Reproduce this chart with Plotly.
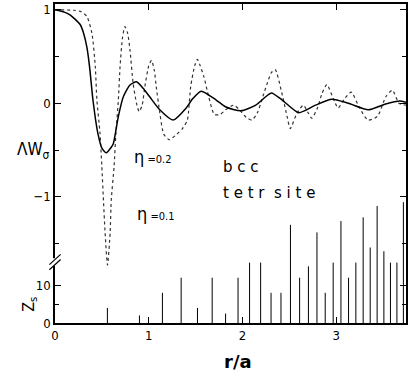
import plotly.graph_objects as go

# eta = 0.2 (solid)
r_solid = [0, 0.1, 0.164, 0.27, 0.305, 0.34, 0.369, 0.405, 0.457, 0.5, 0.546, 0.6, 0.623,
           0.676, 0.729, 0.8, 0.87, 0.94, 1.01, 1.118, 1.26, 1.4, 1.47, 1.56, 1.72, 1.824,
           1.983, 2.142, 2.248, 2.31, 2.424, 2.6, 2.78, 2.953, 3.13, 3.342, 3.519, 3.678, 3.745]
w_solid = [1.0, 0.975, 0.944, 0.84, 0.75, 0.6, 0.39, 0.035, -0.32, -0.48, -0.53, -0.47, -0.43,
           -0.14, 0.07, 0.196, 0.23, 0.16, 0.07, -0.07, -0.18, -0.05, 0.05, 0.13, 0.035, -0.04,
           -0.08, -0.02, 0.07, 0.11, 0.035, -0.10, -0.02, 0.043, 0.0, -0.07, -0.01, 0.025, 0.01]

# eta = 0.1 (dotted)
r_dot = [0, 0.2, 0.28, 0.34, 0.394, 0.43, 0.447, 0.48, 0.5, 0.517, 0.535, 0.56, 0.588, 0.6,
         0.63, 0.65, 0.676, 0.694, 0.72, 0.746, 0.775, 0.8, 0.834, 0.87, 0.898, 0.93, 0.959,
         1.0, 1.03, 1.06, 1.08, 1.118, 1.16, 1.22, 1.3, 1.36, 1.412, 1.448, 1.49, 1.519, 1.55,
         1.59, 1.64, 1.7, 1.76, 1.82, 1.88, 1.91, 1.96, 2.04, 2.1, 2.16, 2.22, 2.26, 2.31, 2.35,
         2.42, 2.476, 2.51, 2.58, 2.65, 2.7, 2.74, 2.8, 2.85, 2.9, 2.97, 3.02, 3.09, 3.16, 3.25,
         3.34, 3.44, 3.53, 3.6, 3.67, 3.745]
w_dot = [1.0, 0.995, 0.98, 0.93, 0.75, 0.39, 0.035, -0.32, -0.68, -1.04, -1.39, -1.73, -1.39, -1.04,
         -0.68, -0.32, 0.035, 0.39, 0.7, 0.82, 0.75, 0.57, 0.21, 0.0, -0.09, -0.02, 0.18,
         0.40, 0.46, 0.35, 0.18, -0.1, -0.33, -0.39, -0.33, -0.27, -0.18, 0.18, 0.4, 0.47, 0.4,
         0.28, 0.07, -0.12, -0.12, -0.07, -0.03, -0.02, -0.06, -0.15, -0.18, -0.1, 0.08, 0.2, 0.33, 0.36,
         0.11, -0.14, -0.27, -0.11, -0.02, -0.1, -0.16, -0.05, 0.107, 0.2, 0.05, -0.05, 0.05, 0.12, -0.05,
         -0.18, -0.14, 0.07, 0.14, 0.0, -0.02]

# coordination shells: radius r/a and number of atoms Zs
r_shell = [0.559, 0.901, 1.146, 1.346, 1.52, 1.677, 1.82, 1.953, 2.076, 2.194, 2.305, 2.411,
           2.512, 2.61, 2.704, 2.795, 2.883, 2.968, 3.051, 3.132, 3.21, 3.288, 3.363, 3.437,
           3.509, 3.579, 3.648, 3.717]
z_shell = [4, 2, 8, 12, 4, 12, 2.5, 12, 16, 16, 8, 8, 26, 12, 15, 24, 8, 16, 27, 12, 16, 28,
           20, 31, 19, 16, 16, 32]

x_ticks = [0, 1, 2, 3]
w_ticks = [-1, 0, 1]
z_ticks = [0, 10]

FONT = "Liberation Sans Narrow, DejaVu Sans Condensed, Liberation Sans, Arial"

sx, sy = [], []
for r, z in zip(r_shell, z_shell):
    sx += [r, r, None]
    sy += [0, z, None]

fig = go.Figure()
fig.add_trace(go.Scatter(x=sx, y=sy, mode="lines", line=dict(color="black", width=1),
                         yaxis="y", hoverinfo="skip"))
fig.add_trace(go.Scatter(x=r_dot, y=w_dot, mode="lines",
                         line=dict(color="#333", width=1.2, dash="dot", shape="spline", smoothing=0.6),
                         yaxis="y2"))
fig.add_trace(go.Scatter(x=r_solid, y=w_solid, mode="lines",
                         line=dict(color="black", width=1.5, shape="spline", smoothing=0.6),
                         yaxis="y2"))

axis_common = dict(showline=True, linecolor="black", linewidth=1.5, mirror="ticks",
                   ticks="inside", ticklen=6, tickcolor="black", tickwidth=1.2,
                   showgrid=False, zeroline=False,
                   tickfont=dict(family=FONT, size=13, color="black"))

fig.update_layout(
    width=410, height=377,
    margin=dict(l=55, r=2, t=4, b=54),
    paper_bgcolor="white", plot_bgcolor="white",
    showlegend=False,
    xaxis=dict(range=[0, 3.745], tickvals=x_ticks, **axis_common),
    yaxis=dict(range=[0, 84.5], tickvals=z_ticks,
               minor=dict(tick0=5, dtick=100, ticks="inside", ticklen=4, tickcolor="black"),
               **axis_common),
    yaxis2=dict(range=[-2.35, 1.062], tickvals=w_ticks, overlaying="y", side="left",
                minor=dict(tick0=0.5, dtick=1, ticks="inside", ticklen=4, tickcolor="black"),
                **axis_common),
)

ann_font = dict(family=FONT, color="black")
anns = [
    dict(x=0.82, y=-0.574, xref="x", yref="y2", xanchor="left", yanchor="middle",
         text="<span style='font-size:18px'>η</span><span style='font-size:11px'> =0.2</span>"),
    dict(x=0.85, y=-1.18, xref="x", yref="y2", xanchor="left", yanchor="middle",
         text="<span style='font-size:18px'>η</span><span style='font-size:11px'> =0.1</span>"),
    dict(x=1.774, y=-0.68, xref="x", yref="y2", xanchor="left", yanchor="middle",
         text="b c c", font=dict(family="DejaVu Sans", size=15, color="black")),
    dict(x=1.774, y=-0.96, xref="x", yref="y2", xanchor="left", yanchor="middle",
         text="t e t r  s i t e", font=dict(family="DejaVu Sans", size=15, color="black")),
    dict(x=-0.062, y=-0.5, xref="paper", yref="y2", xanchor="center", yanchor="middle",
         text="ΛW<sub>σ</sub>", font=dict(family=FONT, size=17, color="black")),
    dict(x=-0.075, y=5, xref="paper", yref="y", xanchor="center", yanchor="middle",
         text="Z<sub>s</sub>", textangle=-90, font=dict(family=FONT, size=16, color="black")),
    dict(x=0.52, y=-0.122, xref="paper", yref="paper", xanchor="center", yanchor="middle",
         text="<b>r/a</b>", font=dict(family="DejaVu Sans", size=18, color="black")),
]
for a in anns:
    a.setdefault("font", ann_font)
    a["showarrow"] = False
    fig.add_annotation(**a)

# axis break marks on the left axis
yb = 0.191
fig.add_shape(type="line", xref="paper", yref="paper", x0=0, x1=0, y0=yb - 0.012, y1=yb + 0.012,
              line=dict(color="white", width=4))
for dy in (-0.008, 0.008):
    fig.add_shape(type="line", xref="paper", yref="paper", x0=-0.016, x1=0.016,
                  y0=yb + dy - 0.016, y1=yb + dy + 0.016, line=dict(color="black", width=1.2))

fig.write_html("out.html")
